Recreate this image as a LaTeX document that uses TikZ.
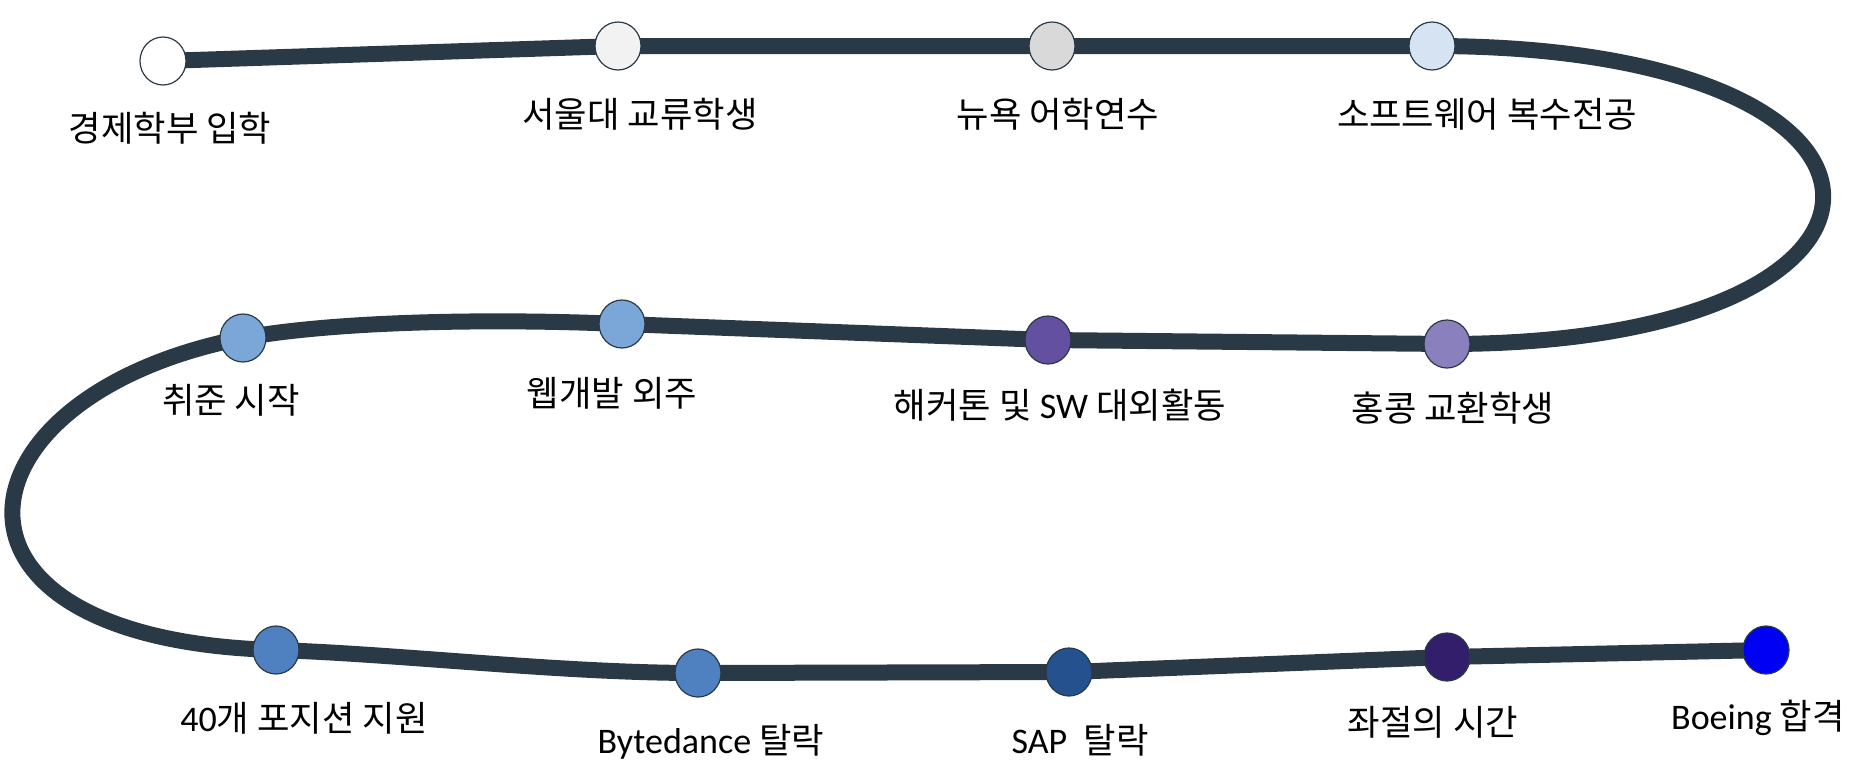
\documentclass[tikz,border=0pt]{standalone}
\usepackage{fontspec}
\setmainfont{Carlito}
\newfontfamily\kor[Scale=0.98]{Noto Sans CJK KR}
\usepackage{tikz}
\usetikzlibrary{backgrounds,shapes.geometric}
\definecolor{trackc}{HTML}{293A46}
\definecolor{paleg}{HTML}{F2F2F2}
\definecolor{midg}{HTML}{D9D9D9}
\definecolor{skyc}{HTML}{D6E3F2}
\definecolor{softb}{HTML}{7BA6D8}
\definecolor{deepp}{HTML}{6350A0}
\definecolor{lavc}{HTML}{8B80BE}
\definecolor{steelb}{HTML}{4F81C1}
\definecolor{navyb}{HTML}{25528E}
\definecolor{indc}{HTML}{331E6B}
\definecolor{pureb}{HTML}{0000F5}
\tikzset{
  track/.style={draw=trackc,line width=16pt,line join=round},
  stop/.style={ellipse,draw=trackc,line width=1.2pt,minimum width=46pt,minimum height=48pt,inner sep=0pt},
  lab/.style={anchor=base,inner sep=0pt,font=\fontsize{36}{40}\selectfont}
}

\begin{document}
\begin{tikzpicture}[x=1pt,y=-1pt]
\useasboundingbox (0,0) rectangle (1866,766);
\foreach \i/\x/\y/\c in {1/163/61/white,2/618/46/paleg,3/1052/46/midg,4/1432/46/skyc,
  5/243/338/softb,6/622/324/softb,7/1048/340/deepp,8/1447/344/lavc,
  9/276/650/steelb,10/698/673/steelb,11/1069/672/navyb,12/1447/657/indc,13/1766/650/pureb}
  \node[stop,fill=\c] (n\i) at (\x,\y) {};
\foreach \i/\x/\y/\t in {1/170/141/{\kor 경제학부 입학},2/640/127/{\kor 서울대 교류학생},
  3/1058/127/{\kor 뉴욕 어학연수},4/1487/127/{\kor 소프트웨어 복수전공},
  5/231/413/{\kor 취준 시작},6/612/406/{\kor 웹개발 외주},
  7/1060/418/{{\kor 해커톤 및} SW {\kor 대외활동}},8/1453/421/{\kor 홍콩 교환학생},
  9/304/731/{40{\kor 개 포지션 지원}},10/711/753/{Bytedance {\kor 탈락}},
  11/1080/753/{SAP\ \ {\kor 탈락}},12/1433/735/{\kor 좌절의 시간},13/1758/729/{Boeing {\kor 합격}}}
  \node[lab] (l\i) at (\x,\y) {\t};
% snake line under the stops
\begin{scope}[on background layer]
\draw[track] (n1.center) -- (n2.center) -- (n3.center) -- (n4.center)
  .. controls (1951,46) and (1951,344) .. (n8.center) -- (n7.center) -- (n6.center)
  .. controls (480,318) and (330,322) .. (n5.center)
  .. controls (-50,395) and (-90,640) .. (n9.center)
  .. controls (400,654) and (560,673) .. (n10.center) -- (n11.center) -- (n12.center) -- (n13.center);
\end{scope}
\end{tikzpicture}
\end{document}
